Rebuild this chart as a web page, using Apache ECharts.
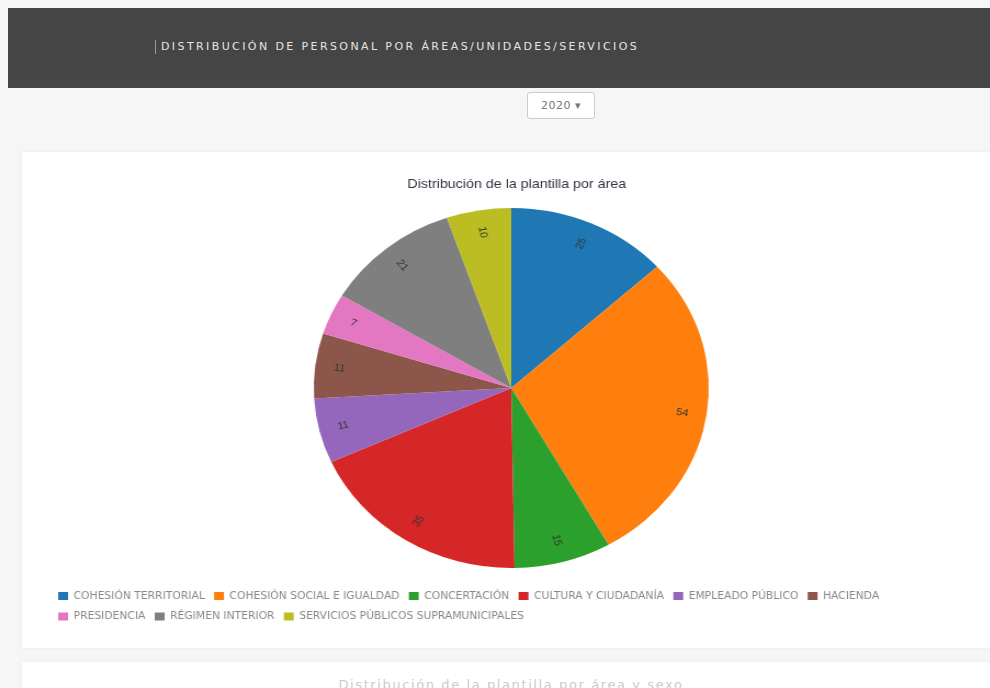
<!DOCTYPE html>
<html>
<head>
<meta charset="utf-8">
<script src="https://cdn.jsdelivr.net/npm/echarts@6/dist/echarts.min.js"></script>
<style>
  html, body { margin: 0; padding: 0; background: #f6f6f6; width: 990px; height: 688px; overflow: hidden; font-family: "DejaVu Sans", sans-serif; }
  #header { position: absolute; left: 8px; top: 8px; width: 990px; height: 80px; background: #454545; }
  #header .t { position: absolute; left: 147px; top: 32px; color: #e4e4e4; font-size: 11px; letter-spacing: 2.4px; border-left: 1px solid #999; padding-left: 5px; line-height: 14px; white-space: nowrap; }
  #sel { position: absolute; left: 527px; top: 92px; width: 66px; height: 25px; background: #fff; border: 1px solid #ccc; border-radius: 3px; font-size: 11px; color: #777; line-height: 25px; text-align: center; letter-spacing: 0.5px; }
  #card { position: absolute; left: 22px; top: 152px; width: 980px; height: 496px; background: #fff; box-shadow: 0 0 3px rgba(0,0,0,0.06); overflow: hidden; }
  #chart { position: absolute; left: 0; top: 0; width: 882px; height: 496px; transform: scaleX(1.097); transform-origin: 0 0; }
  #card2 { position: absolute; left: 22px; top: 662px; width: 980px; height: 60px; background: #fff; box-shadow: 0 0 3px rgba(0,0,0,0.06); }
  #card2 .t { position: absolute; left: 0; width: 978px; top: 15px; text-align: center; font-size: 13px; color: #ccc; letter-spacing: 1.6px; }
</style>
</head>
<body>
<div id="header"><div class="t">DISTRIBUCIÓN DE PERSONAL POR ÁREAS/UNIDADES/SERVICIOS</div></div>
<div id="sel">2020 ▾</div>
<div id="card"><div id="chart"></div></div>
<div id="card2"><div class="t">Distribución de la plantilla por área y sexo</div></div>
<script>
const chartTitle = "Distribución de la plantilla por área";
const areas = [
  "COHESIÓN TERRITORIAL",
  "COHESIÓN SOCIAL E IGUALDAD",
  "CONCERTACIÓN",
  "CULTURA Y CIUDADANÍA",
  "EMPLEADO PÚBLICO",
  "HACIENDA",
  "PRESIDENCIA",
  "RÉGIMEN INTERIOR",
  "SERVICIOS PÚBLICOS SUPRAMUNICIPALES"
];
const staff = [25, 54, 15, 35, 11, 11, 7, 21, 10];
const palette = ["#1f77b4", "#ff7f0e", "#2ca02c", "#d62728", "#9467bd", "#8c564b", "#e377c2", "#7f7f7f", "#bcbd22"];

const data = areas.map((n, i) => ({ name: n, value: staff[i] }));
const chart = echarts.init(document.getElementById('chart'));
const cx = 446, cy = 236, R = 180;
chart.setOption({
  animation: false,
  color: palette,
  title: {
    text: chartTitle, left: cx, top: 21, textAlign: 'center',
    textStyle: { fontSize: 13, fontWeight: 'normal', color: '#3a3040', fontFamily: 'Arial, "Liberation Sans", sans-serif' }
  },
  legend: {
    left: 28, top: 433, width: 800,
    itemWidth: 9, itemHeight: 8, itemGap: 8.5,
    icon: 'rect',
    textStyle: { fontSize: 9.8, lineHeight: 12, color: '#888', padding: [0, 0, 0, 0], fontFamily: '"DejaVu Sans", sans-serif' },
    data: areas
  },
  series: [
    {
      type: 'pie', center: [cx, cy], radius: [0, R],
      startAngle: 90, clockwise: true,
      data: data,
      label: { show: false },
      labelLine: { show: false },
      itemStyle: { borderWidth: 0 }
    },
    {
      type: 'pie', center: [cx, cy], radius: [R * 0.72, R],
      startAngle: 90, clockwise: true, silent: true,
      data: data,
      itemStyle: { color: 'rgba(0,0,0,0)' },
      label: { show: true, position: 'inside', rotate: 'radial', formatter: '{c}', fontSize: 10, color: '#333' },
      labelLine: { show: false },
      legendHoverLink: false
    }
  ]
});
</script>
</body>
</html>
